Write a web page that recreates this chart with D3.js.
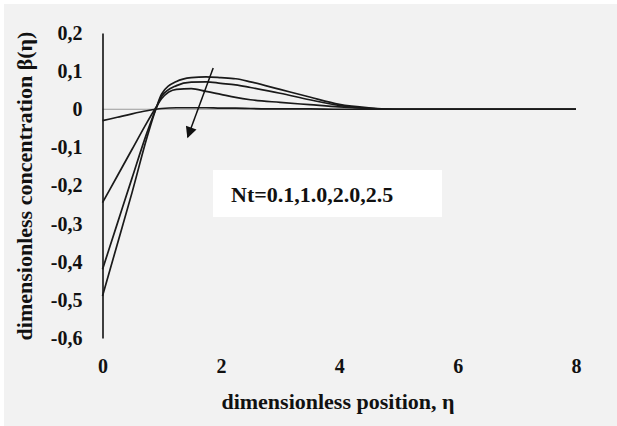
<!DOCTYPE html>
<html>
<head>
<meta charset="utf-8">
<script src="https://cdn.jsdelivr.net/npm/d3@7"></script>
<style>
    body { margin: 0; background: #fff; }
</style>
</head>
<body>
<script>
var eta = [0, 0.25, 0.5, 0.75, 0.9, 1.0, 1.25, 1.5, 1.75, 2.0, 2.25, 2.5, 3.0, 3.5, 4.0, 4.5, 5.0, 6.0, 7.0, 8.0];

var seriesNames = ["Nt=0.1", "Nt=1.0", "Nt=2.0", "Nt=2.5"];
var beta01 = [-0.49, -0.354, -0.218, -0.075, 0.0, 0.04, 0.073, 0.083, 0.085, 0.083, 0.08, 0.072, 0.052, 0.032, 0.013, 0.004, 0.0, 0.0, 0.0, 0.0];
var beta10 = [-0.42, -0.30, -0.18, -0.062, 0.0, 0.034, 0.062, 0.071, 0.072, 0.068, 0.064, 0.057, 0.042, 0.025, 0.010, 0.002, 0.0, 0.0, 0.0, 0.0];
var beta20 = [-0.245, -0.175, -0.105, -0.035, 0.004, 0.028, 0.052, 0.054, 0.047, 0.039, 0.031, 0.025, 0.018, 0.012, 0.006, 0.002, 0.0, 0.0, 0.0, 0.0];
var beta25 = [-0.03, -0.021, -0.012, -0.004, 0.0, 0.002, 0.004, 0.004, 0.004, 0.003, 0.003, 0.002, 0.001, 0.001, 0.0, 0.0, 0.0, 0.0, 0.0, 0.0];

var xTicks = [0, 2, 4, 6, 8];
var yTicks = [0.2, 0.1, 0, -0.1, -0.2, -0.3, -0.4, -0.5, -0.6];
var yTickLabels = ["0,2", "0,1", "0", "-0,1", "-0,2", "-0,3", "-0,4", "-0,5", "-0,6"];

var font = "'Liberation Serif', 'DejaVu Serif', serif";
var width = 617;
var height = 426;

var svg = d3.select("body")
    .append("svg")
    .attr("width", width)
    .attr("height", height);

// grey panel with a thin white edge at top and left
svg.append("rect")
    .attr("x", 4)
    .attr("y", 4)
    .attr("width", width - 4)
    .attr("height", height - 4)
    .attr("fill", "#f2f2f2");

var x = d3.scaleLinear().domain([0, 8]).range([102.5, 576]);
var y = d3.scaleLinear().domain([-0.6, 0.2]).range([338, 33]);

// thin grey line at zero
svg.append("line")
    .attr("x1", x(0))
    .attr("x2", x(8))
    .attr("y1", y(0))
    .attr("y2", y(0))
    .attr("stroke", "#9a9a9a")
    .attr("stroke-width", 1);

// y axis
var yAxis = svg.append("g")
    .attr("transform", "translate(" + x(0) + ",0)")
    .call(d3.axisLeft(y)
        .tickValues(yTicks)
        .tickSize(0)
        .tickPadding(20)
        .tickFormat((d, i) => yTickLabels[i]));
yAxis.attr("font-family", font).attr("font-size", 20).attr("font-weight", "bold");
yAxis.select(".domain")
    .attr("stroke", "#111")
    .attr("stroke-width", 1.6);
yAxis.selectAll("text").attr("fill", "#111");

// x axis (labels only)
var xAxis = svg.append("g")
    .attr("transform", "translate(0," + 355 + ")")
    .call(d3.axisBottom(x)
        .tickValues(xTicks)
        .tickSize(0)
        .tickPadding(4)
        .tickFormat(d3.format("d")));
xAxis.attr("font-family", font).attr("font-size", 20).attr("font-weight", "bold");
xAxis.select(".domain").remove();
xAxis.selectAll("text").attr("fill", "#111");

// curves
var seriesData = [beta01, beta10, beta20, beta25];
var line = d3.line()
    .x((d, i) => x(eta[i]))
    .y((d) => y(d))
    .curve(d3.curveMonotoneX);

svg.selectAll("path.curve")
    .data(seriesData)
    .enter()
    .append("path")
    .attr("class", "curve")
    .attr("d", line)
    .attr("fill", "none")
    .attr("stroke", "#1a1a1a")
    .attr("stroke-width", 1.7);

// arrow showing increasing Nt
svg.append("defs")
    .append("marker")
    .attr("id", "head")
    .attr("viewBox", "0 0 10 10")
    .attr("refX", 9)
    .attr("refY", 5)
    .attr("markerWidth", 9)
    .attr("markerHeight", 7.5)
    .attr("markerUnits", "strokeWidth")
    .attr("orient", "auto")
    .append("path")
    .attr("d", "M0,0 L10,5 L0,10 z")
    .attr("fill", "#111");

svg.append("line")
    .attr("x1", x(1.87))
    .attr("y1", y(0.108))
    .attr("x2", x(1.44))
    .attr("y2", y(-0.073))
    .attr("stroke", "#111")
    .attr("stroke-width", 1.5)
    .attr("marker-end", "url(#head)");

// label box
svg.append("rect")
    .attr("x", 213)
    .attr("y", 170)
    .attr("width", 229)
    .attr("height", 47)
    .attr("fill", "#ffffff");

svg.append("text")
    .attr("x", 231)
    .attr("y", 202)
    .attr("font-family", font)
    .attr("font-weight", "bold")
    .attr("font-size", 22)
    .attr("fill", "#111")
    .text("Nt=" + seriesNames.map((d) => d.replace("Nt=", "")).join(","));

// axis titles
svg.append("text")
    .attr("x", 338)
    .attr("y", 409)
    .attr("text-anchor", "middle")
    .attr("font-family", font)
    .attr("font-weight", "bold")
    .attr("font-size", 22)
    .attr("fill", "#111")
    .text("dimensionless position, η");

svg.append("text")
    .attr("transform", "translate(32,186) rotate(-90)")
    .attr("text-anchor", "middle")
    .attr("font-family", font)
    .attr("font-weight", "bold")
    .attr("font-size", 22)
    .attr("fill", "#111")
    .text("dimensionless concentration β(η)");
</script>
</body>
</html>
